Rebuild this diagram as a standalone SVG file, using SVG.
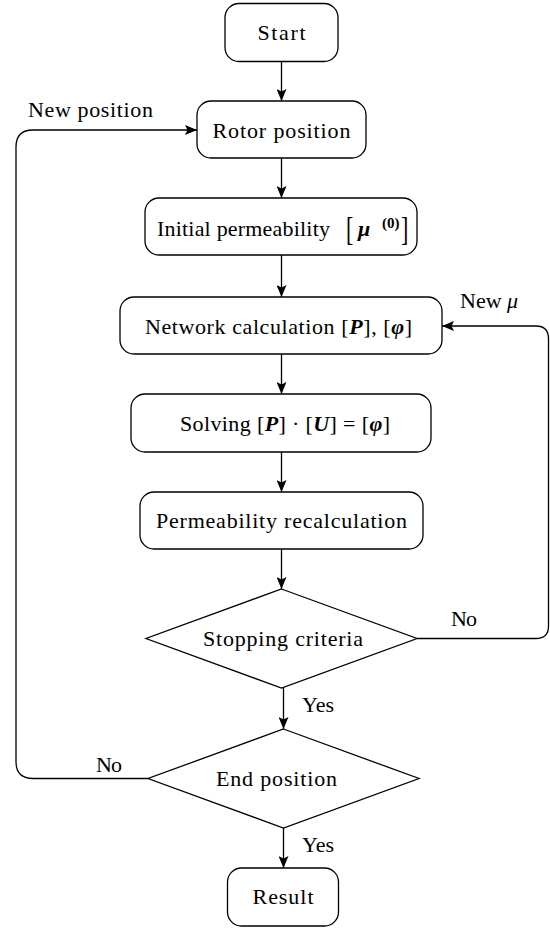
<svg xmlns="http://www.w3.org/2000/svg" width="550" height="929" viewBox="0 0 550 929">
<defs>
<marker id="ah" viewBox="0 0 12 10" refX="12" refY="5" markerWidth="12" markerHeight="10" markerUnits="userSpaceOnUse" orient="auto">
<path d="M0,0 L12,5 L0,10 L2.5,5 Z" fill="#000"/>
</marker>
</defs>
<rect width="550" height="929" fill="#fff"/>
<g id="connectors" fill="none" stroke="#000" stroke-width="1.3" marker-end="url(#ah)">
<path d="M281.5,62 V101"/>
<path d="M281.5,158 V198"/>
<path d="M281.5,255 V297"/>
<path d="M281.5,354 V394"/>
<path d="M281.5,452 V492"/>
<path d="M281.5,549 V589"/>
<path d="M283.5,688 V729"/>
<path d="M283.5,828 V868"/>
<path d="M148,778.5 H33 Q16,778.5 16,761.5 V147 Q16,130 33,130 H197"/>
<path d="M417,638.5 H536 Q548.5,638.5 548.5,626 V339 Q548.5,326 536,326 H442"/>
</g>
<g id="labels" font-family="Liberation Serif, serif" font-size="22" fill="#000">
<text x="28" y="117" textLength="125" lengthAdjust="spacing">New position</text>
<text x="460" y="308">New <tspan font-style="italic">μ</tspan></text>
<text x="451" y="626" textLength="26" lengthAdjust="spacing">No</text>
<text x="302" y="712" textLength="32" lengthAdjust="spacing">Yes</text>
<text x="96" y="772" textLength="26" lengthAdjust="spacing">No</text>
<text x="302" y="852" textLength="32" lengthAdjust="spacing">Yes</text>
</g>
<g id="nodes" font-family="Liberation Serif, serif" font-size="22">
<g id="start">
<rect fill="#fff" stroke="#000" stroke-width="1.3" x="225" y="3.5" width="113" height="58" rx="14"/>
<text x="281.5" y="40" text-anchor="middle" textLength="48" lengthAdjust="spacing">Start</text>
</g>
<g id="rotor">
<rect fill="#fff" stroke="#000" stroke-width="1.3" x="197" y="101" width="169" height="57" rx="14"/>
<text x="281.5" y="137.5" text-anchor="middle" textLength="138" lengthAdjust="spacing">Rotor position</text>
</g>
<g id="initial">
<rect fill="#fff" stroke="#000" stroke-width="1.3" x="145" y="198" width="272" height="57" rx="14"/>
<text x="157" y="236" textLength="173" lengthAdjust="spacing">Initial permeability</text>
<text transform="translate(346,240) scale(1,1.55)">[</text>
<text font-style="italic" font-weight="bold" x="358" y="236">μ</text>
<text x="382" y="228" font-size="15" font-weight="bold">(0)</text>
<text transform="translate(401,240) scale(1,1.55)">]</text>
</g>
<g id="network">
<rect fill="#fff" stroke="#000" stroke-width="1.3" x="120" y="297" width="322" height="57" rx="14"/>
<text x="145" y="333.5" textLength="267" lengthAdjust="spacing">Network calculation [<tspan font-style="italic" font-weight="bold">P</tspan>], [<tspan font-style="italic" font-weight="bold">φ</tspan>]</text>
</g>
<g id="solving">
<rect fill="#fff" stroke="#000" stroke-width="1.3" x="131" y="394" width="300" height="58" rx="14"/>
<text x="180" y="431" textLength="210" lengthAdjust="spacing">Solving [<tspan font-style="italic" font-weight="bold">P</tspan>] · [<tspan font-style="italic" font-weight="bold">U</tspan>] = [<tspan font-style="italic" font-weight="bold">φ</tspan>]</text>
</g>
<g id="recalc">
<rect fill="#fff" stroke="#000" stroke-width="1.3" x="140" y="492" width="283" height="57" rx="14"/>
<text x="281.5" y="528" text-anchor="middle" textLength="251" lengthAdjust="spacing">Permeability recalculation</text>
</g>
<g id="stopping">
<path fill="#fff" stroke="#000" stroke-width="1.3" d="M281.5,589 L417,638.5 L281.5,688 L146,638.5 Z"/>
<text x="283" y="645.5" text-anchor="middle" textLength="160" lengthAdjust="spacing">Stopping criteria</text>
</g>
<g id="end">
<path fill="#fff" stroke="#000" stroke-width="1.3" d="M283.5,729 L419,778.5 L283.5,828 L148,778.5 Z"/>
<text x="276.5" y="785.5" text-anchor="middle" textLength="121" lengthAdjust="spacing">End position</text>
</g>
<g id="result">
<rect fill="#fff" stroke="#000" stroke-width="1.3" x="227.5" y="868" width="111" height="58" rx="14"/>
<text x="283" y="904" text-anchor="middle" textLength="61" lengthAdjust="spacing">Result</text>
</g>
</g>
</svg>
